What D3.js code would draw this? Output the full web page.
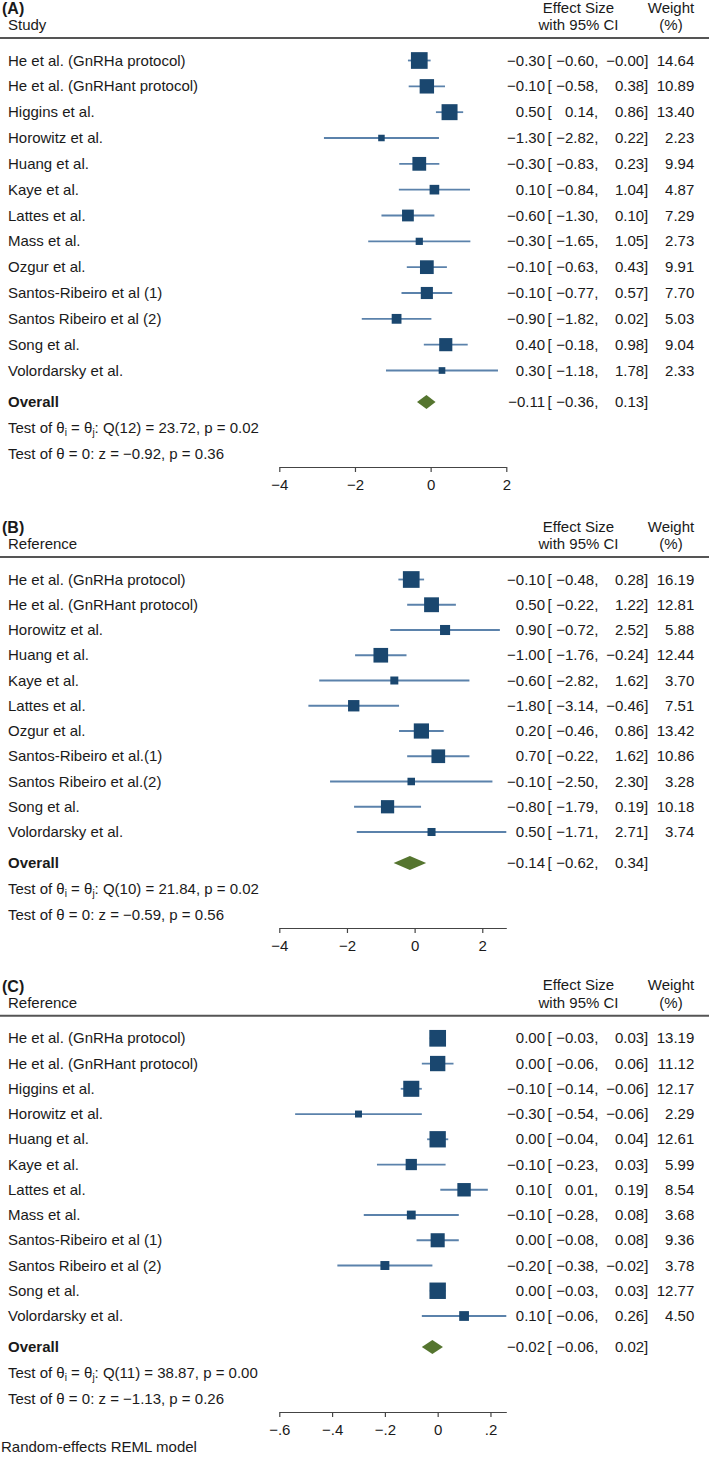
<!DOCTYPE html>
<html><head><meta charset="utf-8">
<script src="https://cdn.jsdelivr.net/npm/d3@7"></script>
<style>
body{margin:0;background:#fff}
text{font-family:"Liberation Sans",Arial,Helvetica,sans-serif;fill:#1a1a1a}
</style>
</head><body>
<svg id="chart" width="709" height="1459"></svg>
<script>
// ---------- Panel A ----------
const studiesA = ["He et al. (GnRHa protocol)","He et al. (GnRHant protocol)","Higgins et al.","Horowitz et al.","Huang et al.","Kaye et al.","Lattes et al.","Mass et al.","Ozgur et al.","Santos-Ribeiro et al (1)","Santos Ribeiro et al (2)","Song et al.","Volordarsky et al."];
const esA = [-0.30,-0.10,0.50,-1.30,-0.30,0.10,-0.60,-0.30,-0.10,-0.10,-0.90,0.40,0.30];
const loA = [-0.60,-0.58,0.14,-2.82,-0.83,-0.84,-1.30,-1.65,-0.63,-0.77,-1.82,-0.18,-1.18];
const hiA = [-0.00,0.38,0.86,0.22,0.23,1.04,0.10,1.05,0.43,0.57,0.02,0.98,1.78];
const wA  = [14.64,10.89,13.40,2.23,9.94,4.87,7.29,2.73,9.91,7.70,5.03,9.04,2.33];
const overallA = [-0.11,-0.36,0.13];
const ticksA = [-4,-2,0,2];
const tickLabelsA = ["\u22124","\u22122","0","2"];

// ---------- Panel B ----------
const studiesB = ["He et al. (GnRHa protocol)","He et al. (GnRHant protocol)","Horowitz et al.","Huang et al.","Kaye et al.","Lattes et al.","Ozgur et al.","Santos-Ribeiro et al.(1)","Santos Ribeiro et al.(2)","Song et al.","Volordarsky et al."];
const esB = [-0.10,0.50,0.90,-1.00,-0.60,-1.80,0.20,0.70,-0.10,-0.80,0.50];
const loB = [-0.48,-0.22,-0.72,-1.76,-2.82,-3.14,-0.46,-0.22,-2.50,-1.79,-1.71];
const hiB = [0.28,1.22,2.52,-0.24,1.62,-0.46,0.86,1.62,2.30,0.19,2.71];
const wB  = [16.19,12.81,5.88,12.44,3.70,7.51,13.42,10.86,3.28,10.18,3.74];
const overallB = [-0.14,-0.62,0.34];
const ticksB = [-4,-2,0,2];
const tickLabelsB = ["\u22124","\u22122","0","2"];

// ---------- Panel C ----------
const studiesC = ["He et al. (GnRHa protocol)","He et al. (GnRHant protocol)","Higgins et al.","Horowitz et al.","Huang et al.","Kaye et al.","Lattes et al.","Mass et al.","Santos-Ribeiro et al (1)","Santos Ribeiro et al (2)","Song et al.","Volordarsky et al."];
const esC = [0.00,0.00,-0.10,-0.30,0.00,-0.10,0.10,-0.10,0.00,-0.20,0.00,0.10];
const loC = [-0.03,-0.06,-0.14,-0.54,-0.04,-0.23,0.01,-0.28,-0.08,-0.38,-0.03,-0.06];
const hiC = [0.03,0.06,-0.06,-0.06,0.04,0.03,0.19,0.08,0.08,-0.02,0.03,0.26];
const wC  = [13.19,11.12,12.17,2.29,12.61,5.99,8.54,3.68,9.36,3.78,12.77,4.50];
const overallC = [-0.02,-0.06,0.02];
const ticksC = [-0.6,-0.4,-0.2,0,0.2];
const tickLabelsC = ["\u2212.6","\u2212.4","\u2212.2","0",".2"];

// ---------- Heterogeneity tests ----------
const testDf = [12,10,11];
const testQ = [23.72,21.84,38.87];
const testQp = [0.02,0.02,0.00];
const testZ = [-0.92,-0.59,-1.13];
const testZp = [0.36,0.56,0.26];
const panelLabels = ["(A)","(B)","(C)"];
const colHeaders = ["Study","Reference","Reference"];

const svg = d3.select("#chart");
const FS = 15;
const NAVY = "#1a476f", CILINE = "#5b82ab", GREEN = "#55752f";
const X0 = 279.3, X1 = 506.3;

const fmt = v => ((v < 0 || Object.is(v, -0)) ? "\u2212" : "") + Math.abs(v).toFixed(2);

function panel(k, studies, es, lo, hi, w, overall, ticks, tickLabels, r1, rLast, yOv) {
  const g = svg.append("g");
  const n = studies.length;
  const y = d3.scaleLinear().domain([0, n - 1]).range([r1, rLast]);
  const dmax = Math.max(ticks[ticks.length - 1], d3.max(hi));
  const x = d3.scaleLinear().domain([ticks[0], dmax]).range([X0, X1]);
  const maxW = d3.max(w);
  const side = d3.scaleSqrt().domain([0, maxW]).range([0, 16.7]);
  const off = 5; // baseline offset from row centre

  // headers
  const h1 = r1 - 53 + off, h2 = r1 - 35.5 + off, hl = r1 - 22.5;
  g.append("text").attr("x", 2).attr("y", h2 - 16).attr("font-weight", "bold").attr("font-size", 16).text(panelLabels[k]);
  g.append("text").attr("x", 8).attr("y", h2).attr("font-size", FS).text(colHeaders[k]);
  g.append("text").attr("x", 578.5).attr("y", h1).attr("font-size", FS).attr("text-anchor", "middle").text("Effect Size");
  g.append("text").attr("x", 578.5).attr("y", h2).attr("font-size", FS).attr("text-anchor", "middle").text("with 95% CI");
  g.append("text").attr("x", 671).attr("y", h1).attr("font-size", FS).attr("text-anchor", "middle").text("Weight");
  g.append("text").attr("x", 671).attr("y", h2).attr("font-size", FS).attr("text-anchor", "middle").text("(%)");
  g.append("line").attr("x1", 0).attr("x2", 709).attr("y1", hl).attr("y2", hl).attr("stroke", "#555").attr("stroke-width", 2);

  const rows = g.selectAll("g.row").data(studies).enter().append("g").attr("class", "row");
  rows.append("text").attr("x", 8).attr("y", (d, i) => y(i) + off).attr("font-size", FS).text(d => d);
  rows.append("line")
    .attr("x1", (d, i) => x(lo[i])).attr("x2", (d, i) => x(hi[i]))
    .attr("y1", (d, i) => y(i)).attr("y2", (d, i) => y(i))
    .attr("stroke", CILINE).attr("stroke-width", 1.8);
  rows.append("rect")
    .attr("x", (d, i) => x(es[i]) - side(w[i]) / 2)
    .attr("y", (d, i) => y(i) - side(w[i]) / 2)
    .attr("width", (d, i) => side(w[i])).attr("height", (d, i) => side(w[i]))
    .attr("fill", NAVY);
  rows.append("text").attr("x", 545).attr("y", (d, i) => y(i) + off).attr("font-size", FS).attr("text-anchor", "end").text((d, i) => fmt(es[i]));
  rows.append("text").attr("x", 547.5).attr("y", (d, i) => y(i) + off).attr("font-size", FS).text("[");
  rows.append("text").attr("x", 598.3).attr("y", (d, i) => y(i) + off).attr("font-size", FS).attr("text-anchor", "end").text((d, i) => fmt(lo[i]) + ",");
  rows.append("text").attr("x", 648.3).attr("y", (d, i) => y(i) + off).attr("font-size", FS).attr("text-anchor", "end").text((d, i) => fmt(hi[i]) + "]");
  rows.append("text").attr("x", 694.3).attr("y", (d, i) => y(i) + off).attr("font-size", FS).attr("text-anchor", "end").text((d, i) => w[i].toFixed(2));

  // overall
  g.append("text").attr("x", 8).attr("y", yOv + off).attr("font-size", FS).attr("font-weight", "bold").text("Overall");
  const dh = 7;
  g.append("path")
    .attr("d", `M${x(overall[1])},${yOv}L${x(overall[0])},${yOv - dh}L${x(overall[2])},${yOv}L${x(overall[0])},${yOv + dh}Z`)
    .attr("fill", GREEN);
  g.append("text").attr("x", 545).attr("y", yOv + off).attr("font-size", FS).attr("text-anchor", "end").text(fmt(overall[0]));
  g.append("text").attr("x", 547.5).attr("y", yOv + off).attr("font-size", FS).text("[");
  g.append("text").attr("x", 598.3).attr("y", yOv + off).attr("font-size", FS).attr("text-anchor", "end").text(fmt(overall[1]) + ",");
  g.append("text").attr("x", 648.3).attr("y", yOv + off).attr("font-size", FS).attr("text-anchor", "end").text(fmt(overall[2]) + "]");

  // tests
  const t1 = g.append("text").attr("x", 8).attr("y", yOv + 26 + off).attr("font-size", FS);
  t1.append("tspan").text("Test of \u03B8");
  t1.append("tspan").attr("font-size", 10).attr("dy", 3).text("i");
  t1.append("tspan").attr("dy", -3).text(" = \u03B8");
  t1.append("tspan").attr("font-size", 10).attr("dy", 3).text("j");
  t1.append("tspan").attr("dy", -3).text(`: Q(${testDf[k]}) = ${testQ[k].toFixed(2)}, p = ${testQp[k].toFixed(2)}`);
  g.append("text").attr("x", 8).attr("y", yOv + 51.5 + off).attr("font-size", FS)
    .text(`Test of \u03B8 = 0: z = ${fmt(testZ[k])}, p = ${testZp[k].toFixed(2)}`);

  // axis
  const ax = g.append("g").attr("transform", `translate(0,${yOv + 65})`)
    .call(d3.axisBottom(x).tickValues(ticks).tickFormat((d, i) => tickLabels[i]).tickSizeInner(5).tickSizeOuter(0).tickPadding(7));
  ax.select(".domain").attr("stroke", "#444").attr("stroke-width", 1.2);
  ax.selectAll(".tick line").attr("stroke", "#444").attr("stroke-width", 1.2);
  ax.selectAll(".tick text").attr("font-size", FS).attr("font-family", "Liberation Sans, Arial, sans-serif").attr("fill", "#1a1a1a");
}

panel(0, studiesA, esA, loA, hiA, wA, overallA, ticksA, tickLabelsA, 60.5, 370.5, 402);
panel(1, studiesB, esB, loB, hiB, wB, overallB, ticksB, tickLabelsB, 579.5, 832, 863);
panel(2, studiesC, esC, loC, hiC, wC, overallC, ticksC, tickLabelsC, 1038.3, 1316, 1347);

svg.append("text").attr("x", 1).attr("y", 1452).attr("font-size", FS).text("Random-effects REML model");
</script>
</body></html>
